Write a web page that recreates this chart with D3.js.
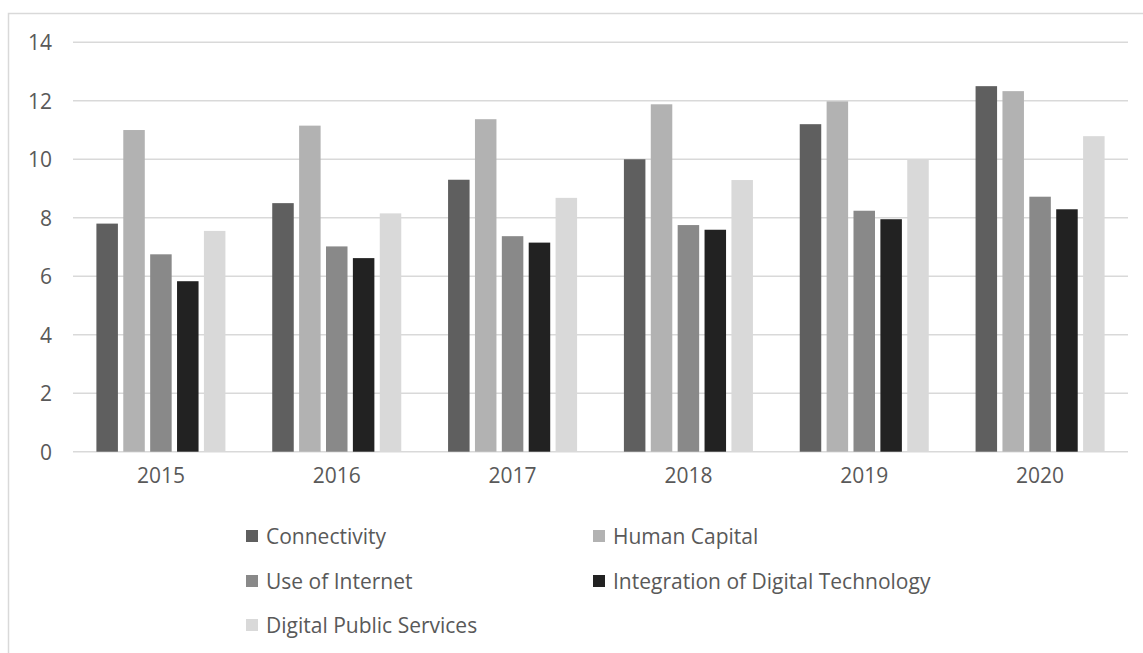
<!DOCTYPE html>
<html>
<head>
<meta charset="utf-8">
<script src="https://cdn.jsdelivr.net/npm/d3@7"></script>
<style>
  html, body { margin: 0; padding: 0; background: #ffffff; }
  svg { display: block; }
  text { font-family: "Open Sans", "Noto Sans", sans-serif; fill: #595959; }
</style>
</head>
<body>
<svg id="chart" width="1143" height="653"></svg>
<script>
// DESI dimension scores by year
const years = ["2015", "2016", "2017", "2018", "2019", "2020"];
const seriesNames = ["Connectivity", "Human Capital", "Use of Internet", "Integration of Digital Technology", "Digital Public Services"];
const connectivity = [7.8, 8.5, 9.3, 10.0, 11.2, 12.5];
const humanCapital = [11.0, 11.15, 11.37, 11.88, 11.98, 12.33];
const useOfInternet = [6.75, 7.02, 7.37, 7.75, 8.24, 8.72];
const integrationDigitalTech = [5.83, 6.62, 7.15, 7.59, 7.95, 8.29];
const digitalPublicServices = [7.55, 8.15, 8.68, 9.29, 10.0, 10.79];
const yTicks = [0, 2, 4, 6, 8, 10, 12, 14];

const seriesValues = [connectivity, humanCapital, useOfInternet, integrationDigitalTech, digitalPublicServices];
const colors = ["#5f5f5f", "#b2b2b2", "#898989", "#222222", "#d9d9d9"];

const svg = d3.select("#chart");

// outer chart frame
svg.append("rect")
  .attr("x", 8.5).attr("y", 13.5)
  .attr("width", 1200).attr("height", 700)
  .attr("fill", "none").attr("stroke", "#d9d9d9").attr("stroke-width", 1.5);

const plot = { left: 73, right: 1128, top: 42.3, bottom: 451.7 };

const x0 = d3.scaleBand().domain(years).range([plot.left, plot.right]).paddingInner(0).paddingOuter(0);
const groupFrac = 129 / 175.8;
const x1 = d3.scaleBand().domain(d3.range(seriesNames.length))
  .range([0, x0.bandwidth() * groupFrac]).paddingInner(0.2).paddingOuter(0);
const y = d3.scaleLinear().domain([0, 14]).range([plot.bottom, plot.top]);

// gridlines
svg.append("g").selectAll("line").data(yTicks).join("line")
  .attr("x1", plot.left).attr("x2", plot.right)
  .attr("y1", d => y(d)).attr("y2", d => y(d))
  .attr("stroke", "#d9d9d9").attr("stroke-width", 1.6);

// y axis labels
const yAxis = d3.axisLeft(y).tickValues(yTicks).tickSize(0).tickPadding(0);
const gy = svg.append("g").attr("transform", "translate(52,0)").call(yAxis);
gy.select(".domain").remove();
gy.selectAll("text").attr("font-size", 21).attr("dy", "0.36em")
  .style("font-family", "'Open Sans', sans-serif").attr("fill", "#595959");

// x axis labels
const xAxis = d3.axisBottom(x0).tickSize(0).tickPadding(0);
const gx = svg.append("g").attr("transform", "translate(0,468)").call(xAxis);
gx.select(".domain").remove();
gx.selectAll("text").attr("font-size", 21).attr("dy", "0.71em")
  .style("font-family", "'Open Sans', sans-serif").attr("fill", "#595959");

// bars
const groupOffset = (x0.bandwidth() - x0.bandwidth() * groupFrac) / 2;
const groups = svg.append("g").selectAll("g").data(years).join("g")
  .attr("transform", d => `translate(${x0(d) + groupOffset},0)`);
groups.selectAll("rect")
  .data((yr, i) => seriesValues.map((vals, s) => ({ s, v: vals[i] })))
  .join("rect")
  .attr("x", d => x1(d.s))
  .attr("width", x1.bandwidth())
  .attr("y", d => y(d.v))
  .attr("height", d => y(0) - y(d.v))
  .attr("fill", d => colors[d.s]);

// legend
const legendPos = [
  { x: 246, y: 536 }, { x: 593, y: 536 },
  { x: 246, y: 581 }, { x: 593, y: 581 },
  { x: 246, y: 625 }
];
const legend = svg.append("g").selectAll("g").data(seriesNames).join("g")
  .attr("transform", (d, i) => `translate(${legendPos[i].x},${legendPos[i].y})`);
legend.append("rect")
  .attr("x", 0).attr("y", -6).attr("width", 12).attr("height", 12)
  .attr("fill", (d, i) => colors[i]);
legend.append("text")
  .attr("x", 20).attr("y", 0).attr("dy", "0.36em")
  .attr("font-size", 21)
  .text(d => d);
</script>
</body>
</html>
